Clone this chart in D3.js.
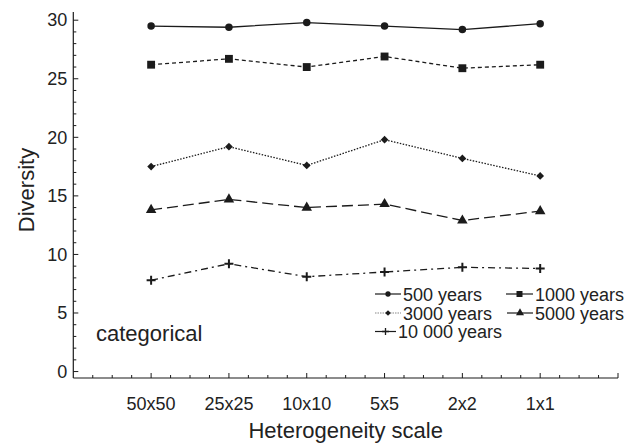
<!DOCTYPE html>
<html>
<head>
<meta charset="utf-8">
<script src="https://cdn.jsdelivr.net/npm/d3@7"></script>
<style>
  body { margin: 0; background: #fff; }
  svg text { font-family: "Liberation Sans", Arial, Helvetica, sans-serif; fill: #222; }
</style>
</head>
<body>
<div id="chart"></div>
<script>
// heterogeneity scales on the x axis
const scales = ["50x50", "25x25", "10x10", "5x5", "2x2", "1x1"];

// diversity values per run length
const div500 = [29.5, 29.4, 29.8, 29.5, 29.2, 29.7];
const div1000 = [26.2, 26.7, 26.0, 26.9, 25.9, 26.2];
const div3000 = [17.5, 19.2, 17.6, 19.8, 18.2, 16.7];
const div5000 = [13.8, 14.7, 14.0, 14.3, 12.9, 13.7];
const div10000 = [7.8, 9.2, 8.1, 8.5, 8.9, 8.8];

const seriesNames = ["500 years", "1000 years", "3000 years", "5000 years", "10 000 years"];
const yTicks = [0, 5, 10, 15, 20, 25, 30];

const width = 630;
const height = 443;
const ink = "#1b1b1b";

const svg = d3.select("#chart").append("svg")
    .attr("width", width)
    .attr("height", height);

// index -1 is the left axis, data sit at 0..5
const x = d3.scaleLinear().domain([-1, 6]).range([73.3, 618]);
const y = d3.scaleLinear().domain([-0.55, 30.7]).range([378, 12]);

// axis lines
svg.append("line")
    .attr("x1", x(-1)).attr("x2", x(-1))
    .attr("y1", y(30.7)).attr("y2", y(-0.55))
    .attr("stroke", ink).attr("stroke-width", 1.2);
svg.append("line")
    .attr("x1", x(-1)).attr("x2", x(6))
    .attr("y1", y(-0.55)).attr("y2", y(-0.55))
    .attr("stroke", ink).attr("stroke-width", 1.2);

// y ticks (inside), minor every 1
svg.append("g").selectAll("line")
    .data(d3.range(0, 31, 1))
    .enter().append("line")
    .attr("x1", x(-1))
    .attr("x2", d => x(-1) + (d % 5 === 0 ? 5 : 3))
    .attr("y1", d => y(d)).attr("y2", d => y(d))
    .attr("stroke", ink).attr("stroke-width", 1);

svg.append("g").selectAll("text")
    .data(yTicks)
    .enter().append("text")
    .attr("x", x(-1) - 6)
    .attr("y", d => y(d))
    .attr("dy", "0.35em")
    .attr("text-anchor", "end")
    .style("font-size", "18px")
    .text(d => d);

// x ticks (inside), minor every quarter
svg.append("g").selectAll("line")
    .data(d3.range(-0.75, 6.01, 0.25))
    .enter().append("line")
    .attr("x1", d => x(d)).attr("x2", d => x(d))
    .attr("y1", y(-0.55))
    .attr("y2", d => y(-0.55) - (Math.abs(d - Math.round(d)) < 1e-6 ? 5 : 3))
    .attr("stroke", ink).attr("stroke-width", 1);

svg.append("g").selectAll("text")
    .data(scales)
    .enter().append("text")
    .attr("x", (d, i) => x(i))
    .attr("y", 410)
    .attr("text-anchor", "middle")
    .style("font-size", "18px")
    .text(d => d);

// axis titles
svg.append("text")
    .attr("x", (x(-1) + x(6)) / 2)
    .attr("y", 438)
    .attr("text-anchor", "middle")
    .style("font-size", "22px")
    .text("Heterogeneity scale");

svg.append("text")
    .attr("transform", "translate(34,190) rotate(-90)")
    .attr("text-anchor", "middle")
    .style("font-size", "22px")
    .text("Diversity");

svg.append("text")
    .attr("x", 96)
    .attr("y", 341)
    .style("font-size", "22px")
    .text("categorical");

// marker drawing
const plusPath = s => `M${-s},0H${s}M0,${-s}V${s}`;
const series = [
    { name: seriesNames[0], values: div500, dash: null, sym: d3.symbolCircle, size: 44, lsize: 22 },
    { name: seriesNames[1], values: div1000, dash: "4,3", sym: d3.symbolSquare, size: 62, lsize: 36 },
    { name: seriesNames[2], values: div3000, dash: "1.5,1.5", sym: d3.symbolSquare, size: 30, lsize: 16, rot: 45 },
    { name: seriesNames[3], values: div5000, dash: "11,5", sym: d3.symbolTriangle, size: 48, lsize: 28 },
    { name: seriesNames[4], values: div10000, dash: "7,4,2,4", sym: null, size: 4.5, lsize: 3.5 }
];

function marker(g, s, small) {
    if (s.sym) {
        g.append("path")
            .attr("d", d3.symbol().type(s.sym).size(small ? s.lsize : s.size)())
            .attr("transform", s.rot ? `rotate(${s.rot})` : null)
            .attr("fill", ink);
    } else {
        g.append("path")
            .attr("d", plusPath(small ? s.lsize : s.size))
            .attr("stroke", ink).attr("stroke-width", small ? 1.3 : 2)
            .attr("fill", "none");
    }
}

const line = d3.line().x((d, i) => x(i)).y(d => y(d));

series.forEach(s => {
    svg.append("path")
        .datum(s.values)
        .attr("d", line)
        .attr("fill", "none")
        .attr("stroke", ink)
        .attr("stroke-width", 1.3)
        .attr("stroke-dasharray", s.dash);

    s.values.forEach((v, i) => {
        const g = svg.append("g").attr("transform", `translate(${x(i)},${y(v)})`);
        marker(g, s, false);
    });
});

// legend
const legendPos = [
    { lx: 375, tx: 403, ly: 294 },
    { lx: 506, tx: 535, ly: 294 },
    { lx: 375, tx: 403, ly: 313 },
    { lx: 507, tx: 535, ly: 313 },
    { lx: 375, tx: 398, ly: 331.5 }
];

series.forEach((s, i) => {
    const p = legendPos[i];
    const g = svg.append("g");
    g.append("line")
        .attr("x1", p.lx).attr("x2", p.tx - 2)
        .attr("y1", p.ly).attr("y2", p.ly)
        .attr("stroke", i === 2 ? "#888" : ink)
        .attr("stroke-width", 1.2)
        .attr("stroke-dasharray", i === 2 ? "1.5,1" : null);
    const m = g.append("g").attr("transform", `translate(${(p.lx + p.tx - 2) / 2},${p.ly})`);
    marker(m, s, true);
    g.append("text")
        .attr("x", p.tx)
        .attr("y", p.ly + 6.5)
        .style("font-size", "18px")
        .text(s.name);
});
</script>
</body>
</html>
